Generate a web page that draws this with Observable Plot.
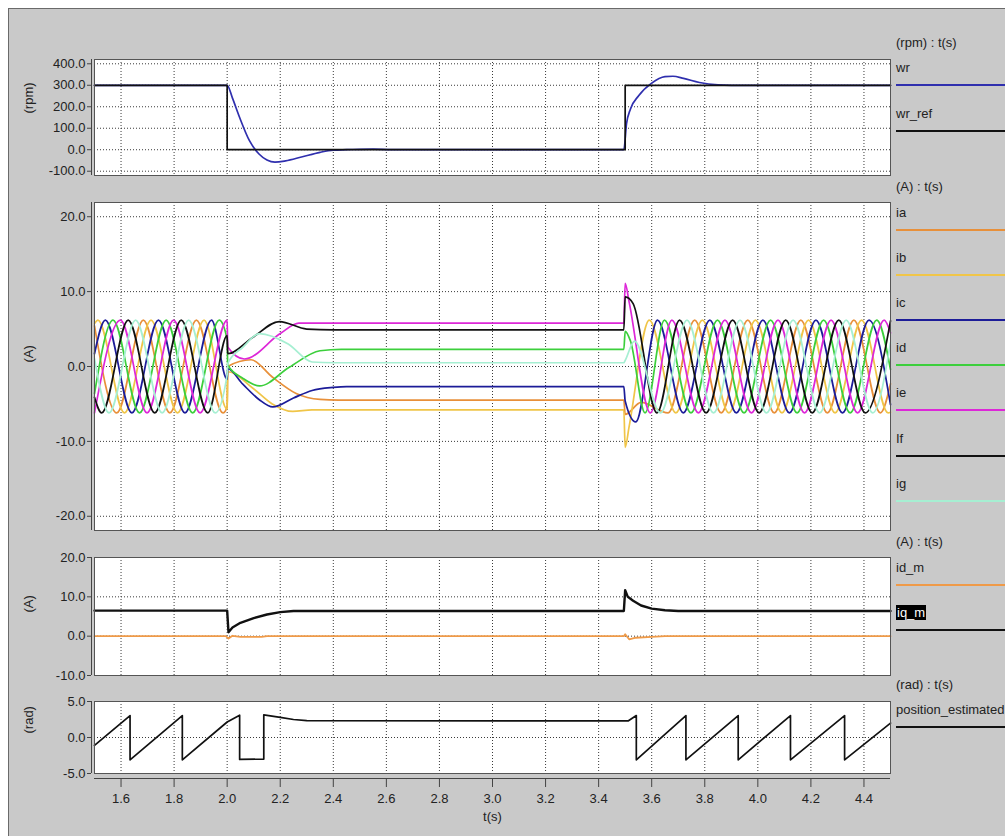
<!DOCTYPE html>
<html>
<head>
<meta charset="utf-8">
<script src="https://cdn.jsdelivr.net/npm/d3@7"></script>
<script src="https://cdn.jsdelivr.net/npm/@observablehq/plot@0.6"></script>
<style>
  html, body { margin: 0; padding: 0; background: #fff; }
  #page { position: relative; width: 1005px; height: 836px; overflow: hidden; background: #fff;
          font-family: "Liberation Sans", Arial, sans-serif; color: #222; }
  #bg { position: absolute; left: 8px; top: 8px; right: 0; bottom: 0; background: #c9c9c9;
        border-left: 1px solid #6a6a6a; border-top: 1px solid #6a6a6a; }
  .panel { position: absolute; left: 0; }
  .lg { position: absolute; left: 896px; font-size: 13px; line-height: 16px; white-space: nowrap; color: #222; }
  .ll { position: absolute; left: 896px; width: 109px; height: 0; }
  .hl { background: #000; color: #fff; padding: 0 1px; }
</style>
</head>
<body>
<div id="page"><div id="bg"></div></div>
<script>
// ---------- axis ticks ----------
const tTicks = [1.6, 1.8, 2.0, 2.2, 2.4, 2.6, 2.8, 3.0, 3.2, 3.4, 3.6, 3.8, 4.0, 4.2, 4.4];
const tDomain = [1.5, 4.5];
const rpmTicks = [-100, 0, 100, 200, 300, 400];
const ampTicks = [-20, -10, 0, 10, 20];
const dqTicks = [-10, 0, 10, 20];
const radTicks = [-5, 0, 5];

// ---------- speed (rpm) ----------
const wr_ref = [[1.5,300],[2.0,300],[2.0,0],[3.5,0],[3.5,300],[4.5,300]];
const wr = [[1.5,300],[2.0,300],[2.02,240],[2.047,150],[2.084,42],[2.12,-20],[2.15,-48],[2.18,-58],
            [2.22,-52],[2.28,-34],[2.35,-12],[2.4,-2],[2.45,0],[2.55,3],[2.62,0],[3.495,0],
            [3.505,120],[3.52,190],[3.55,250],[3.6,310],[3.65,340],[3.68,342],[3.72,332],
            [3.78,313],[3.85,302],[3.9,300],[4.5,300]];

// ---------- phase currents (A) ----------
const ia = [[1.5,5.43],[1.584,-6.2],[1.684,6.2],[1.784,-6.2],[1.884,6.2],[1.984,-6.2],[2.0,-5.43],
  [2.002,0.0],[2.09,0.9],[2.17,-1.4],[2.26,-3.6],[2.35,-4.4],[2.42,-4.5],
  [3.495,-4.5],[3.5,-6.4],[3.56,-4.8],[3.662,-6.2],[3.762,6.2],[3.862,-6.2],[3.962,6.2],[4.062,-6.2],
  [4.162,6.2],[4.262,-6.2],[4.362,6.2],[4.462,-6.2],[4.5,-2.3]];
const ib = [[1.5,5.72],[1.513,6.2],[1.613,-6.2],[1.713,6.2],[1.813,-6.2],[1.913,6.2],[2.0,-5.72],
  [2.002,-0.7],[2.097,-2.9],[2.17,-5.0],[2.247,-6.0],[2.32,-5.8],
  [3.495,-5.8],[3.5,-10.8],[3.515,-8.0],[3.591,6.2],[3.691,-6.2],[3.791,6.2],[3.891,-6.2],[3.991,6.2],
  [4.091,-6.2],[4.191,6.2],[4.291,-6.2],[4.391,6.2],[4.491,-6.2],[4.5,-6.1]];
const ic = [[1.5,1.70],[1.541,6.2],[1.641,-6.2],[1.741,6.2],[1.841,-6.2],[1.941,6.2],[2.0,-1.70],
  [2.002,-0.3],[2.06,-2.4],[2.12,-4.4],[2.172,-5.4],[2.25,-4.2],[2.32,-3.2],[2.4,-2.8],[2.45,-2.7],
  [3.495,-2.7],[3.5,-4.6],[3.54,-7.4],[3.622,6.2],[3.719,-6.2],[3.819,6.2],[3.919,-6.2],[4.019,6.2],
  [4.119,-6.2],[4.219,6.2],[4.319,-6.2],[4.419,6.2],[4.5,-5.1]];
const id = [[1.5,-3.61],[1.570,6.2],[1.670,-6.2],[1.770,6.2],[1.870,-6.2],[1.970,6.2],[2.0,3.60],
  [2.002,0.2],[2.06,-1.6],[2.122,-2.6],[2.234,-0.1],[2.35,2.1],[2.43,2.3],
  [3.495,2.3],[3.5,4.7],[3.52,3.4],[3.575,-6.2],[3.648,6.2],[3.748,-6.2],[3.848,6.2],[3.948,-6.2],
  [4.048,6.2],[4.148,-6.2],[4.248,6.2],[4.348,-6.2],[4.448,6.2],[4.5,-0.4]];
const ie = [[1.5,-6.2],[1.598,6.2],[1.698,-6.2],[1.798,6.2],[1.898,-6.2],[2.0,6.2],
  [2.002,2.6],[2.065,1.0],[2.2,4.4],[2.27,5.8],
  [3.495,5.8],[3.5,11.1],[3.515,8.6],[3.595,-6.2],[3.676,6.2],[3.776,-6.2],[3.876,6.2],[3.976,-6.2],
  [4.076,6.2],[4.176,-6.2],[4.276,6.2],[4.376,-6.2],[4.476,6.2],[4.5,4.5]];
const iF = [[1.5,-4.12],[1.527,-6.2],[1.627,6.2],[1.727,-6.2],[1.827,6.2],[1.927,-6.2],[2.0,4.12],
  [2.002,1.7],[2.097,3.9],[2.197,6.0],[2.3,5.0],[2.4,4.9],
  [3.495,4.9],[3.5,9.3],[3.53,8.4],[3.62,-6.2],[3.705,6.2],[3.805,-6.2],[3.905,6.2],[4.005,-6.2],
  [4.105,6.2],[4.205,-6.2],[4.305,6.2],[4.405,-6.2],[4.5,6.1]];
const ig = [[1.5,1.05],[1.555,-6.2],[1.655,6.2],[1.755,-6.2],[1.855,6.2],[1.955,-6.2],[2.0,-1.05],
  [2.002,0.4],[2.06,2.6],[2.122,4.4],[2.23,3.0],[2.32,0.6],[2.4,0.5],
  [3.495,0.5],[3.5,0.8],[3.535,3.4],[3.633,-6.2],[3.733,6.2],[3.833,-6.2],[3.933,6.2],[4.033,-6.2],
  [4.133,6.2],[4.233,-6.2],[4.333,6.2],[4.433,-6.2],[4.5,3.2]];

// ---------- dq currents (A) ----------
const id_m = [[1.5,0],[1.995,0],[2.005,-0.6],[2.02,0.1],[2.05,-0.2],[2.13,-0.2],[2.15,0],
  [3.495,0],[3.5,0.5],[3.515,-0.8],[3.54,-0.4],[3.6,-0.2],[3.65,0],[4.5,0]];
const iq_m = [[1.5,6.5],[2.0,6.5],[2.005,1.0],[2.02,2.2],[2.05,3.4],[2.1,4.6],[2.15,5.5],[2.2,6.1],
  [2.25,6.4],[2.3,6.4],[3.495,6.4],[3.5,11.7],[3.51,10.0],[3.53,9.0],[3.56,7.8],[3.6,7.0],
  [3.65,6.6],[3.7,6.4],[4.5,6.4]];

// ---------- estimated position (rad) ----------
const position_estimated = [[1.5,-1.1],[1.634,3.05],[1.634,-3.1],[1.831,3.05],[1.831,-3.1],[2.0,2.15],
  [2.047,3.1],[2.047,-3.05],[2.138,-3.0],[2.138,3.15],[2.2,2.8],[2.25,2.5],[2.3,2.35],[3.511,2.3],
  [3.542,3.05],[3.542,-3.1],[3.729,3.05],[3.729,-3.1],[3.926,3.05],[3.926,-3.1],[4.123,3.05],
  [4.123,-3.1],[4.327,3.05],[4.327,-3.1],[4.5,2.0]];

// ---------- series styling ----------
const speedSeries = [
  {name: "wr", data: wr, color: "#2f2fae", curve: "monotone-x"},
  {name: "wr_ref", data: wr_ref, color: "#111111", curve: "linear"}
];
const phaseSeries = [
  {name: "ia", data: ia, color: "#e8903a"},
  {name: "ib", data: ib, color: "#f0c548"},
  {name: "ic", data: ic, color: "#1c1c98"},
  {name: "id", data: id, color: "#3ccf3c"},
  {name: "ie", data: ie, color: "#dd27d8"},
  {name: "If", data: iF, color: "#111111"},
  {name: "ig", data: ig, color: "#a6efd2"}
];
const dqSeries = [
  {name: "id_m", data: id_m, color: "#ef9a48", width: 1.8},
  {name: "iq_m", data: iq_m, color: "#111111", width: 2.4}
];
const posSeries = [{name: "position_estimated", data: position_estimated, color: "#111111"}];

const FONT = '"Liberation Sans", Arial, sans-serif';
const page = document.getElementById("page");
const BOX_L = 94, BOX_R = 890, W = 1005;

function panel({top, bottom, yDomain, yTicks, ylabel, series, curve, xAxis}) {
  const mt = 20, mb = xAxis ? 63 : 20;
  const h = mt + (bottom - top) + mb;
  const marks = [
    Plot.frame({fill: "white", stroke: null}),
    Plot.gridX(tTicks, {stroke: "#3a3a3a", strokeOpacity: 1, strokeDasharray: "1,2", strokeWidth: 1}),
    Plot.gridY(yTicks, {stroke: "#3a3a3a", strokeOpacity: 1, strokeDasharray: "1,2", strokeWidth: 1}),
    ...series.map(s => Plot.line(s.data, {
      x: d => d[0], y: d => d[1], stroke: s.color,
      strokeWidth: s.width || 1.7, curve: s.curve || curve || "linear"
    })),
    Plot.frame({stroke: "#555", strokeWidth: 1}),
    Plot.ruleX([tDomain[0]], {dx: -3, stroke: "#444"}),
    Plot.axisY({ticks: yTicks, tickFormat: d => d.toFixed(1), tickSize: 4, dx: -3, tickPadding: 2,
                fontSize: 13, label: null, stroke: "#444"}),
    Plot.text([ylabel], {frameAnchor: "left", dx: -66, dy: -4, rotate: -90, fontSize: 13,
                         fill: "#222", text: d => d})
  ];
  if (xAxis) {
    marks.push(
      Plot.ruleY([yDomain[0]], {dy: 5, stroke: "#444"}),
      Plot.axisX({ticks: tTicks, tickFormat: d => d.toFixed(1), tickSize: 9, dy: 5, tickPadding: 6,
                  fontSize: 13, label: null, stroke: "#444"}),
      Plot.text(["t(s)"], {frameAnchor: "bottom", dy: 47, fontSize: 13, fill: "#222", text: d => d})
    );
  }
  const svg = Plot.plot({
    width: W, height: h,
    marginLeft: BOX_L, marginRight: W - BOX_R, marginTop: mt, marginBottom: mb,
    x: {domain: tDomain, axis: null},
    y: {domain: yDomain, axis: null},
    style: {background: "transparent", fontFamily: FONT, fontSize: "13px", color: "#222", overflow: "visible"},
    marks
  });
  svg.classList.add("panel");
  svg.style.top = (top - mt) + "px";
  page.appendChild(svg);
}

panel({top: 59, bottom: 175, yDomain: [-120, 420], yTicks: rpmTicks, ylabel: "(rpm)",
       series: speedSeries});
panel({top: 202, bottom: 530, yDomain: [-21.9, 21.9], yTicks: ampTicks, ylabel: "(A)",
       series: phaseSeries, curve: "monotone-x"});
panel({top: 557, bottom: 675, yDomain: [-10, 20], yTicks: dqTicks, ylabel: "(A)",
       series: dqSeries, curve: "linear"});
panel({top: 701, bottom: 773, yDomain: [-5, 5], yTicks: radTicks, ylabel: "(rad)",
       series: posSeries, curve: "linear", xAxis: true});

// ---------- legends (HTML) ----------
function label(text, cy, cls) {
  const d = document.createElement("div");
  d.className = "lg";
  d.style.top = (cy - 8) + "px";
  if (cls) { const s = document.createElement("span"); s.className = cls; s.textContent = text; d.appendChild(s); }
  else d.textContent = text;
  page.appendChild(d);
}
function swatch(color, cy, w) {
  const d = document.createElement("div");
  d.className = "ll";
  d.style.top = (cy - 1) + "px";
  d.style.borderTop = (w || 2) + "px solid " + color;
  page.appendChild(d);
}
const legendGroups = [
  {header: "(rpm) : t(s)", hy: 43, y0: 68, step: 46, series: speedSeries},
  {header: "(A) : t(s)", hy: 187, y0: 213, step: 45.1, series: phaseSeries},
  {header: "(A) : t(s)", hy: 542, y0: 568, step: 45, series: dqSeries},
  {header: "(rad) : t(s)", hy: 685, y0: 710, step: 45, series: posSeries}
];
for (const g of legendGroups) {
  label(g.header, g.hy);
  g.series.forEach((s, i) => {
    const cy = g.y0 + i * g.step;
    label(s.name, cy, s.name === "iq_m" ? "hl" : null);
    swatch(s.color, cy + 17, 2);
  });
}
</script>
</body>
</html>
